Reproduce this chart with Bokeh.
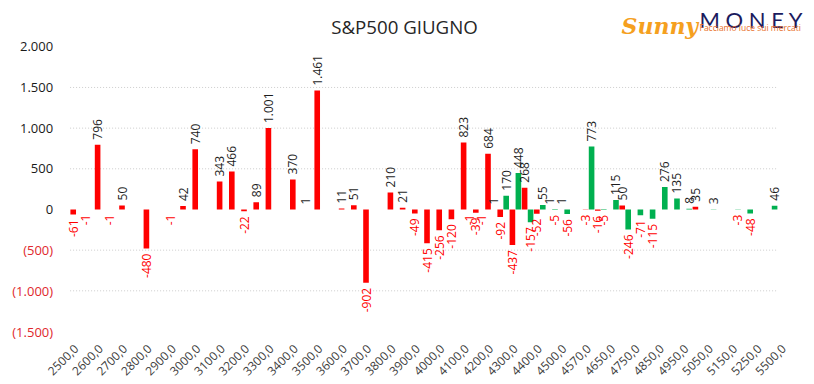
import math
from bokeh.plotting import figure
from bokeh.models import ColumnDataSource, FixedTicker, Range1d
from bokeh.transform import dodge
from bokeh.embed import file_html
from bokeh.resources import INLINE
from bokeh.core.properties import value

# ---------------- data ----------------
strikes = [2500, 2550, 2600, 2650, 2700, 2750, 2800, 2850, 2900, 2950,
           3000, 3050, 3100, 3150, 3200, 3250, 3300, 3350, 3400, 3450,
           3500, 3550, 3600, 3650, 3700, 3750, 3800, 3850, 3900, 3950,
           4000, 4050, 4100, 4150, 4200, 4250, 4300, 4350, 4400, 4450,
           4500, 4550, 4570, 4600, 4650, 4700, 4750, 4800, 4850, 4900,
           4950, 5000, 5050, 5100, 5150, 5200, 5250, 5300, 5500]

red_vals = [-61, -1, 796, -1, 50, None, -480, None, -1, 42,
            740, None, 343, 466, -22, 89, 1001, None, 370, 1,
            1461, None, 11, 51, -902, None, 210, 21, -49, -415,
            -256, -120, 823, -39, 684, -92, -437, 268, -52, 1,
            1, None, -3, -16, None, 50, None, None, None, None,
            None, 35, None, None, None, None, None, None, None]

green_vals = [None, None, None, None, None, None, None, None, None, None,
              None, None, None, None, None, None, None, None, None, None,
              None, None, None, None, None, None, None, None, None, None,
              None, None, -1, -1, 1, 170, 448, -157, 55, -5,
              -56, None, 773, -5, 115, -246, -71, -115, 276, 135,
              8, None, 3, None, -3, -48, None, 46, None]

y_ticks = [-1500, -1000, -500, 0, 500, 1000, 1500, 2000]
grid_ticks = [-1000, -500, 500, 1000, 1500]

title_text = "S&P500 GIUGNO"
logo_script = "Sunny"
logo_word = "M O N E Y"
logo_tagline = "Facciamo luce sui mercati"

RED = "#FF0000"
GREEN = "#00B050"
FONT = "Open Sans"

# ---------------- layout constants (pixels) ----------------
W, H = 814, 384
CAT_PX = 12.2           # width of one category
PLOT_LEFT_PX = 69.6     # left edge of first category
PX_PER_UNIT = 0.08135   # vertical scale
Y_LOW = -1500           # lowest value tick
Y_LOW_PX = 331.0        # page y of that tick
BOTTOM_BORDER = 42


def fmt(v):
    return f"{abs(v):,}".replace(",", ".")


def fmt_data(v):
    return ("-" + fmt(v)) if v < 0 else fmt(v)


def fmt_axis(v):
    return f"({fmt(v)})" if v < 0 else fmt(v)


n = len(strikes)
x_start = -0.5 - PLOT_LEFT_PX / CAT_PX
x_end = x_start + W / CAT_PX
frame_h = H - BOTTOM_BORDER
y_end = Y_LOW + Y_LOW_PX / PX_PER_UNIT
y_start = Y_LOW - (frame_h - Y_LOW_PX) / PX_PER_UNIT

p = figure(width=W, height=H, output_backend="svg", toolbar_location=None,
           x_range=Range1d(x_start, x_end), y_range=Range1d(y_start, y_end),
           y_axis_location=None,
           min_border_left=0, min_border_right=0, min_border_top=0,
           min_border_bottom=BOTTOM_BORDER)
p.outline_line_color = None
p.background_fill_color = "white"
p.border_fill_color = "white"
for g in p.grid:
    g.visible = False

# gridlines across the category span
last_cat = max(i for i in range(n) if red_vals[i] is not None or green_vals[i] is not None)
p.segment(x0=[-0.5] * len(grid_ticks), x1=[last_cat + 0.5] * len(grid_ticks),
          y0=grid_ticks, y1=grid_ticks, line_color="#cccccc", line_width=1,
          line_dash="1 2")

# bars
def series_source(vals):
    xs = [i for i, v in enumerate(vals) if v is not None]
    vs = [v for v in vals if v is not None]
    return ColumnDataSource(dict(i=xs, v=vs))

red_src = series_source(red_vals)
green_src = series_source(green_vals)

p.vbar(x=dodge("i", -0.245, range=p.x_range), top="v", bottom=0, width=0.46,
       source=red_src, fill_color=RED, line_color=None)
p.vbar(x=dodge("i", 0.245, range=p.x_range), top="v", bottom=0, width=0.46,
       source=green_src, fill_color=GREEN, line_color=None)

# data labels
pos = dict(x=[], y=[], t=[])
neg = dict(x=[], y=[], t=[])
for off, vals in ((-0.245, red_vals), (0.245, green_vals)):
    for i, v in enumerate(vals):
        if v is None:
            continue
        d = pos if v >= 0 else neg
        d["x"].append(i + off)
        d["y"].append(v)
        d["t"].append(fmt_data(v))

p.text(x="x", y="y", text="t", source=ColumnDataSource(pos), angle=math.pi / 2,
       text_align="left", text_baseline="middle", y_offset=-5,
       text_font=value(FONT), text_font_size="12px", text_color="#1e1e1e")
p.text(x="x", y="y", text="t", source=ColumnDataSource(neg), angle=math.pi / 2,
       text_align="right", text_baseline="middle", y_offset=5,
       text_font=value(FONT), text_font_size="12px", text_color=RED)

# y axis labels (coloured by sign)
ysrc = ColumnDataSource(dict(
    x=[-0.5] * len(y_ticks),
    y=y_ticks,
    t=[fmt_axis(v) for v in y_ticks],
    c=["#E0282E" if v < 0 else "#1a1a1a" for v in y_ticks],
))
p.text(x="x", y="y", text="t", source=ysrc, x_offset=-17,
       text_align="right", text_baseline="middle",
       text_font=value(FONT), text_font_size="13px", text_color="c")

# x axis
p.xaxis.ticker = FixedTicker(ticks=list(range(0, n, 2)))
p.xaxis.major_label_overrides = {i: f"{strikes[i]},0" for i in range(0, n, 2)}
p.xaxis.major_label_orientation = math.pi / 4
p.xaxis.axis_line_color = None
p.xaxis.major_tick_line_color = None
p.xaxis.minor_tick_line_color = None
p.xaxis.major_tick_out = 0
p.xaxis.major_tick_in = 0
p.xaxis.major_label_standoff = 4
p.xaxis.major_label_text_font = FONT
p.xaxis.major_label_text_font_size = "12px"
p.xaxis.major_label_text_color = "#404040"

# title and logo, anchored to the top corners of the canvas
x_mid = (x_start + x_end) / 2
p.text(x=[x_mid], y=[y_end], text=[title_text], x_offset=-3, y_offset=26,
       text_align="center", text_baseline="alphabetic",
       text_font=value(FONT), text_font_size="18.7px", text_color="#262626")
p.text(x=[x_end], y=[y_end], text=[logo_script], x_offset=-193, y_offset=25,
       text_align="left", text_baseline="alphabetic",
       text_font=value("DejaVu Serif"), text_font_style="bold italic",
       text_font_size="22px", text_color="#F5A01E")
p.text(x=[x_end], y=[y_end], text=[logo_word], x_offset=-115, y_offset=18.5,
       text_align="left", text_baseline="alphabetic",
       text_font=value("Lato"), text_font_size="22px", text_color="#1B1B5E")
p.text(x=[x_end], y=[y_end], text=[logo_tagline], x_offset=-115, y_offset=27,
       text_align="left", text_baseline="alphabetic",
       text_font=value(FONT), text_font_size="8.5px", text_color="#E8702A")

open("out.html", "w").write(file_html(p, INLINE))
